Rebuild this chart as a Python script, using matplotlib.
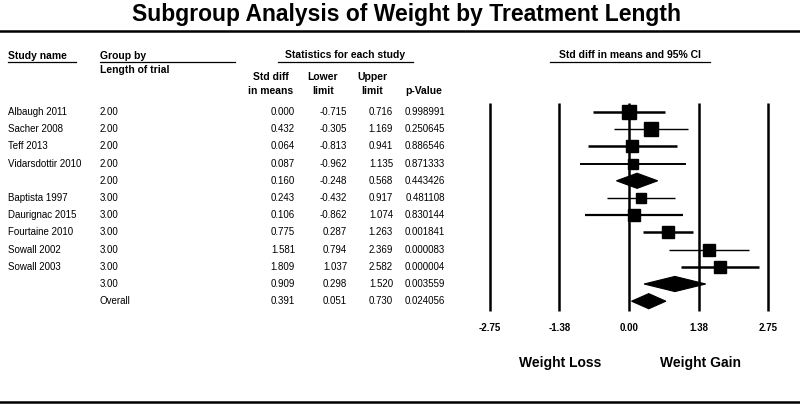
import matplotlib
matplotlib.use("Agg")
import matplotlib.pyplot as plt
from matplotlib.lines import Line2D
from matplotlib.patches import Polygon
import matplotlib.transforms as mtransforms

plt.rcParams['font.family'] = ['Liberation Sans', 'DejaVu Sans']

# ---------------- data ----------------
study_names = ["Albaugh 2011", "Sacher 2008", "Teff 2013", "Vidarsdottir 2010", "",
               "Baptista 1997", "Daurignac 2015", "Fourtaine 2010", "Sowall 2002", "Sowall 2003",
               "", ""]
group_labels = ["2.00", "2.00", "2.00", "2.00", "2.00",
                "3.00", "3.00", "3.00", "3.00", "3.00", "3.00", "Overall"]
std_diff = [0.000, 0.432, 0.064, 0.087, 0.160, 0.243, 0.106, 0.775, 1.581, 1.809, 0.909, 0.391]
lower = [-0.715, -0.305, -0.813, -0.962, -0.248, -0.432, -0.862, 0.287, 0.794, 1.037, 0.298, 0.051]
upper = [0.716, 1.169, 0.941, 1.135, 0.568, 0.917, 1.074, 1.263, 2.369, 2.582, 1.520, 0.730]
p_values = ["0.998991", "0.250645", "0.886546", "0.871333", "0.443426", "0.481108",
            "0.830144", "0.001841", "0.000083", "0.000004", "0.003559", "0.024056"]
is_summary = [False, False, False, False, True, False, False, False, False, False, True, True]
tick_values = [-2.75, -1.38, 0.00, 1.38, 2.75]
tick_labels = ["-2.75", "-1.38", "0.00", "1.38", "2.75"]

# style (box sizes in points, CI line widths)
box_sizes = [9.5, 9.5, 8, 7.5, 0, 7.5, 8, 8.5, 8, 8, 0, 0]
ci_widths = [1.8, 1.0, 1.8, 1.4, 0, 1.0, 1.6, 1.8, 1.0, 1.8, 0, 0]

W, H = 800, 407
fig = plt.figure(figsize=(W / 100, H / 100), dpi=100)

def fx(px):
    return px / W

def fy(py):
    return 1 - py / H

# forest plot axes: pixel 470..790 horizontally, 95..315 vertically
ax_l, ax_r, ax_t, ax_b = 470, 790, 95, 315
ax = fig.add_axes([fx(ax_l), fy(ax_b), fx(ax_r - ax_l), (ax_b - ax_t) / H])
zero_px, unit_px = 629, 50.5
ax.set_xlim((ax_l - zero_px) / unit_px, (ax_r - zero_px) / unit_px)
row0_px, row_step = 112, 17.2
ax.set_ylim((ax_b - row0_px) / row_step, (ax_t - row0_px) / row_step)
for s in ax.spines.values():
    s.set_visible(False)
ax.set_yticks([])
ax.set_xticks(tick_values)
ax.set_xticklabels(tick_labels, fontsize=7, fontweight='bold')
ax.tick_params(axis='x', length=0, pad=6)
ax.patch.set_alpha(0)

vl_top = (103 - row0_px) / row_step
vl_bot = (311 - row0_px) / row_step
for tv in tick_values:
    ax.plot([tv, tv], [vl_top, vl_bot], color='black', lw=1.8, zorder=1, solid_capstyle='butt')

half_h = 0.44
for i in range(len(std_diff)):
    if is_summary[i]:
        poly = Polygon([[lower[i], i], [std_diff[i], i - half_h], [upper[i], i], [std_diff[i], i + half_h]],
                       closed=True, facecolor='black', edgecolor='black', lw=0.8, zorder=3)
        ax.add_patch(poly)
    else:
        ax.plot([lower[i], upper[i]], [i, i], color='black', lw=ci_widths[i], zorder=2,
                solid_capstyle='butt')
        ax.plot([std_diff[i]], [i], marker='s', color='black', markersize=box_sizes[i], zorder=3)

# text columns: x in figure, y in data rows
trans = mtransforms.blended_transform_factory(fig.transFigure, ax.transData)
for i in range(len(std_diff)):
    ax.text(fx(8), i, study_names[i], transform=trans, fontsize=7, va='center', ha='left', clip_on=False)
    ax.text(fx(100), i, group_labels[i], transform=trans, fontsize=7, va='center', ha='left', clip_on=False)
    ax.text(fx(295), i, f"{std_diff[i]:.3f}", transform=trans, fontsize=7, va='center', ha='right', clip_on=False)
    ax.text(fx(347), i, f"{lower[i]:.3f}", transform=trans, fontsize=7, va='center', ha='right', clip_on=False)
    ax.text(fx(393), i, f"{upper[i]:.3f}", transform=trans, fontsize=7, va='center', ha='right', clip_on=False)
    ax.text(fx(445), i, p_values[i], transform=trans, fontsize=7, va='center', ha='right', clip_on=False)

# title and rules
fig.text(fx(407), fy(15), "Subgroup Analysis of Weight by Treatment Length", ha='center', va='center',
         fontsize=16.5, fontweight='bold')
fig.add_artist(Line2D([0, 1], [fy(31), fy(31)], color='black', lw=1.8))
fig.add_artist(Line2D([0, 1], [fy(402), fy(402)], color='black', lw=1.8))

# headers
hdr = dict(fontsize=7.5, fontweight='bold', va='center')
fig.text(fx(8), fy(56), "Study name", ha='left', **hdr)
fig.add_artist(Line2D([fx(8), fx(76)], [fy(62), fy(62)], color='black', lw=0.9))
fig.text(fx(100), fy(56), "Group by", ha='left', **hdr)
fig.add_artist(Line2D([fx(100), fx(235)], [fy(62), fy(62)], color='black', lw=0.9))
fig.text(fx(100), fy(70), "Length of trial", ha='left', **hdr)
fig.text(fx(345), fy(55), "Statistics for each study", ha='center', **hdr)
fig.add_artist(Line2D([fx(278), fx(413)], [fy(62), fy(62)], color='black', lw=0.9))
fig.text(fx(271), fy(77), "Std diff", ha='center', **hdr)
fig.text(fx(271), fy(91), "in means", ha='center', **hdr)
fig.text(fx(323), fy(77), "Lower", ha='center', **hdr)
fig.text(fx(323), fy(91), "limit", ha='center', **hdr)
fig.text(fx(372), fy(77), "Upper", ha='center', **hdr)
fig.text(fx(372), fy(91), "limit", ha='center', **hdr)
fig.text(fx(424), fy(91), "p-Value", ha='center', **hdr)
fig.text(fx(630), fy(55), "Std diff in means and 95% CI", ha='center', **hdr)
fig.add_artist(Line2D([fx(550), fx(710)], [fy(62), fy(62)], color='black', lw=0.9))

fig.text(fx(560), fy(363), "Weight Loss", ha='center', va='center', fontsize=10, fontweight='bold')
fig.text(fx(701), fy(363), "Weight Gain", ha='center', va='center', fontsize=10, fontweight='bold')

fig.savefig("out.png", dpi=100, facecolor='white')
